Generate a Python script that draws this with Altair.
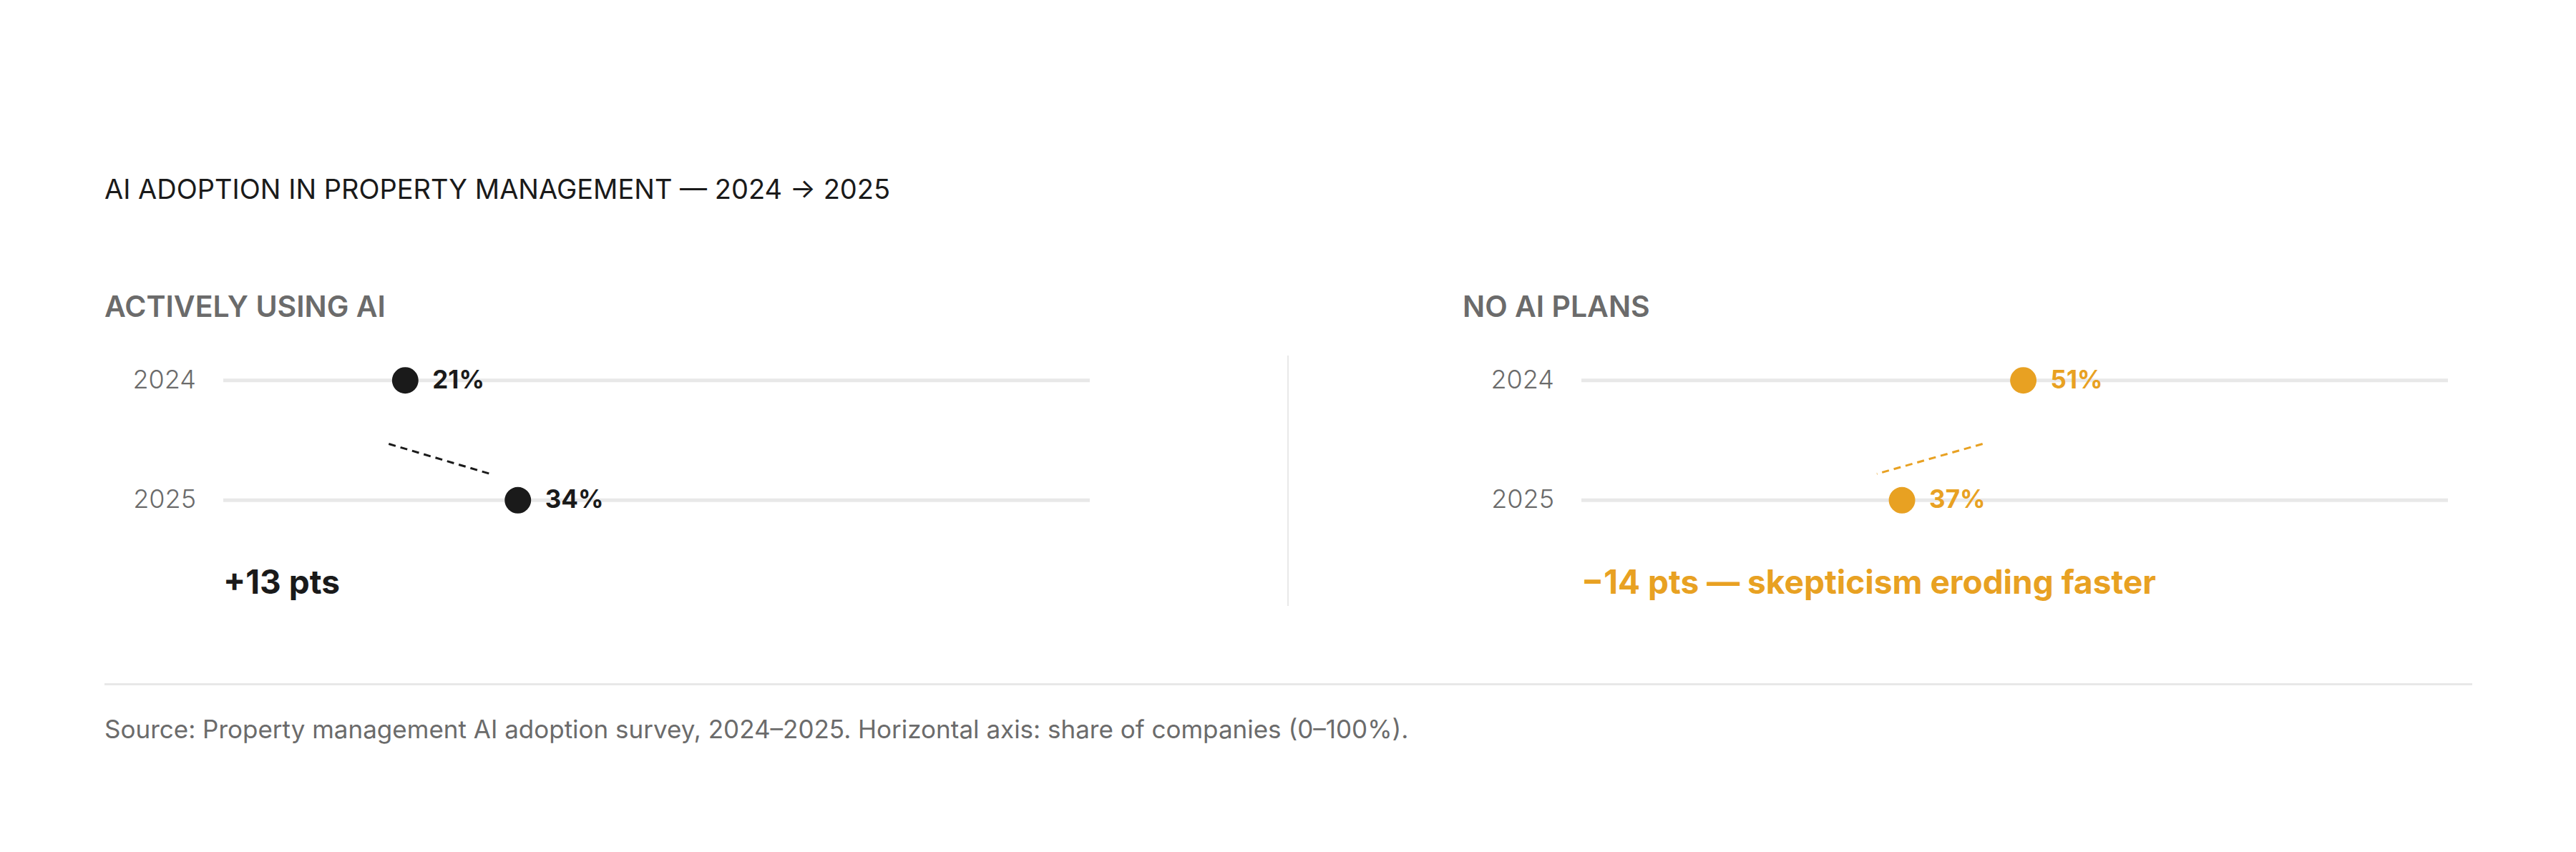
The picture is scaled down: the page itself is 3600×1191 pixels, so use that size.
import altair as alt
import pandas as pd

# ---------------- data ----------------
years = ["2024", "2025"]
row_pos = [0, 1]                      # row index: 0 = 2024, 1 = 2025
active_values = [21, 34]
noplans_values = [51, 37]
active_labels = ["21%", "34%"]
noplans_labels = ["51%", "37%"]
# dashed connector segments (share %, row position between rows)
active_conn_x = [19.1, 30.8]
noplans_conn_x = [46.3, 34.1]
conn_rows = [0.53, 0.78]
panel_titles = ["ACTIVELY USING AI", "NO AI PLANS"]
deltas = ["+13 pts", "\u221214 pts \u2014 skepticism eroding faster"]
title_text = "AI ADOPTION IN PROPERTY MANAGEMENT \u2014 2024 \u2192 2025"
source_text = ("Source: Property management AI adoption survey, 2024\u20132025. "
               "Horizontal axis: share of companies (0\u2013100%).")
axis_domain = [0, 100]

# ---------------- style ----------------
FONT = "Inter"
DARK = "#1a1a1a"
ORANGE = "#E8A122"
GRAY = "#6b6b6b"
LIGHT = "#e8e8e8"

W, H = 3584, 1175
yscale = alt.Scale(domain=[0, 1], range=[523.7, 691.3], nice=False, zero=False)


def panel(values, labels, conn_x, color, x_range, year_x, header_x, header, delta):
    xscale = alt.Scale(domain=axis_domain, range=x_range, nice=False, zero=False)
    df = pd.DataFrame({"year": years, "row": row_pos, "value": values, "label": labels})
    base = alt.Chart(df)

    track = base.mark_rule(strokeWidth=5, color=LIGHT).transform_calculate(
        lo=str(axis_domain[0]), hi=str(axis_domain[1])
    ).encode(
        x=alt.X("lo:Q", scale=xscale, axis=None),
        x2="hi:Q",
        y=alt.Y("row:Q", scale=yscale, axis=None),
    )
    yr = base.mark_text(align="right", baseline="middle", font=FONT, fontSize=36,
                        fontWeight=300, color=GRAY).encode(
        x=alt.value(year_x),
        y=alt.Y("row:Q", scale=yscale, axis=None),
        text="year:N",
    )
    conn_df = pd.DataFrame({"x0": [conn_x[0]], "x1": [conn_x[1]],
                            "y0": [conn_rows[0]], "y1": [conn_rows[1]]})
    conn = alt.Chart(conn_df).mark_rule(strokeWidth=3, strokeDash=[10, 7], color=color).encode(
        x=alt.X("x0:Q", scale=xscale, axis=None),
        x2="x1:Q",
        y=alt.Y("y0:Q", scale=yscale, axis=None),
        y2="y1:Q",
    )
    dots = base.mark_circle(size=1366, opacity=1, color=color).encode(
        x=alt.X("value:Q", scale=xscale, axis=None),
        y=alt.Y("row:Q", scale=yscale, axis=None),
    )
    lab = base.mark_text(align="left", baseline="middle", dx=38, font=FONT, fontSize=35,
                         fontWeight=700, color=color).encode(
        x=alt.X("value:Q", scale=xscale, axis=None),
        y=alt.Y("row:Q", scale=yscale, axis=None),
        text="label:N",
    )
    hd = alt.Chart(pd.DataFrame({"t": [header]})).mark_text(
        align="left", baseline="alphabetic", font=FONT, fontSize=41, fontWeight=600, color=GRAY
    ).encode(x=alt.value(header_x), y=alt.value(435), text="t:N")
    dl = alt.Chart(pd.DataFrame({"t": [delta]})).mark_text(
        align="left", baseline="alphabetic", font=FONT, fontSize=46, fontWeight=700, color=color
    ).encode(x=alt.value(x_range[0]), y=alt.value(822), text="t:N")
    return [track, yr, conn, dots, lab, hd, dl]


left = panel(active_values, active_labels, active_conn_x, DARK,
             [304, 1515], 266, 138, panel_titles[0], deltas[0])
right = panel(noplans_values, noplans_labels, noplans_conn_x, ORANGE,
              [2202, 3413], 2164, 2036, panel_titles[1], deltas[1])

one = pd.DataFrame({"a": [0]})
title = alt.Chart(pd.DataFrame({"t": [title_text]})).mark_text(
    align="left", baseline="alphabetic", font=FONT, fontSize=38, fontWeight=400, color=DARK
).encode(x=alt.value(138), y=alt.value(270), text="t:N")
divider = alt.Chart(one).mark_rule(color=LIGHT, strokeWidth=2).encode(
    x=alt.value(1792), y=alt.value(489), y2=alt.value(839))
hrule = alt.Chart(one).mark_rule(color=LIGHT, strokeWidth=3).encode(
    x=alt.value(138), x2=alt.value(3447), y=alt.value(948.5))
source = alt.Chart(pd.DataFrame({"t": [source_text]})).mark_text(
    align="left", baseline="alphabetic", font=FONT, fontSize=35, fontWeight=400, color=GRAY
).encode(x=alt.value(138), y=alt.value(1024), text="t:N")

chart = alt.layer(*left, *right, title, divider, hrule, source).resolve_scale(
    x="independent"
).properties(
    width=W, height=H, padding=0, autosize=alt.AutoSizeParams(type="none"),
    background="white",
).configure_view(stroke=None)

chart.save("out.html", embed_options={"renderer": "svg", "actions": False})
